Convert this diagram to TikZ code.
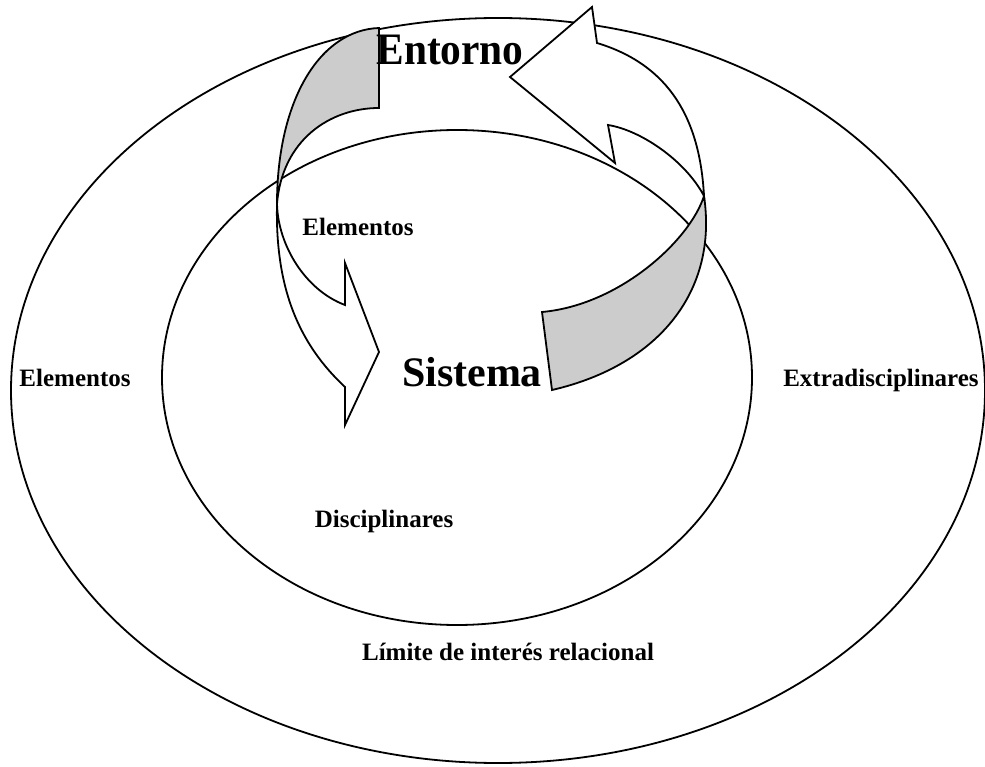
\documentclass[tikz,border=0pt]{standalone}
\usepackage{fontspec}
\setmainfont{Liberation Serif}
\definecolor{ribbon}{RGB}{204,204,204}
\begin{document}
\begin{tikzpicture}[x=1pt,y=-1pt,line width=1.8pt,line join=miter,
  ring/.style={draw=black},
  backside/.style={draw=black,fill=ribbon},
  frontside/.style={draw=black,fill=white},
  biglabel/.style={font=\bfseries\fontsize{42}{48}\selectfont,inner sep=0pt,anchor=base},
  smalllabel/.style={font=\bfseries\fontsize{25}{30}\selectfont,inner sep=0pt,anchor=base}]
\useasboundingbox (0,0) rectangle (985,767);

% environment and system boundaries
\draw[ring] (498,390.5) ellipse [x radius=487pt,y radius=372.5pt];
\draw[ring] (457,377.5) ellipse [x radius=295pt,y radius=247.5pt];

% twisted arrow from the environment into the system
\coordinate (lefttwist) at (277,204);
\draw[backside] (379,28) .. controls (320,30) and (277,100) .. (lefttwist)
  .. controls (282,140) and (330,108) .. (379,108) -- cycle;
\draw[frontside] (lefttwist) .. controls (275,290) and (300,345) .. (345,387)
  -- (345,425) -- (379,352) -- (345,263) -- (345,305)
  .. controls (305,290) and (278,245) .. (lefttwist) -- cycle;

% twisted arrow from the system back to the environment
\coordinate (righttwist) at (704,196);
\draw[backside] (righttwist) .. controls (718,290) and (660,365) .. (552,390)
  -- (542,312) .. controls (620,305) and (690,240) .. (righttwist) -- cycle;
\draw[frontside] (608,125) -- (615,163) -- (510,77) -- (592,7) -- (597,43)
  .. controls (670,65) and (700,120) .. (righttwist)
  .. controls (685,160) and (640,130) .. (608,125) -- cycle;

% labels
\node[biglabel,font=\bfseries\fontsize{45}{50}\selectfont,xscale=0.92] (entorno) at (450,65) {Entorno};
\node[biglabel] (sistema) at (472,386) {Sistema};
\node[smalllabel] (elemin) at (358,236) {Elementos};
\node[smalllabel] (elemout) at (75,386) {Elementos};
\node[smalllabel] (extra) at (881,386) {Extradisciplinares};
\node[smalllabel] (disc) at (384,527) {Disciplinares};
\node[smalllabel] (limite) at (508,660) {Límite de interés relacional};
\end{tikzpicture}
\end{document}
